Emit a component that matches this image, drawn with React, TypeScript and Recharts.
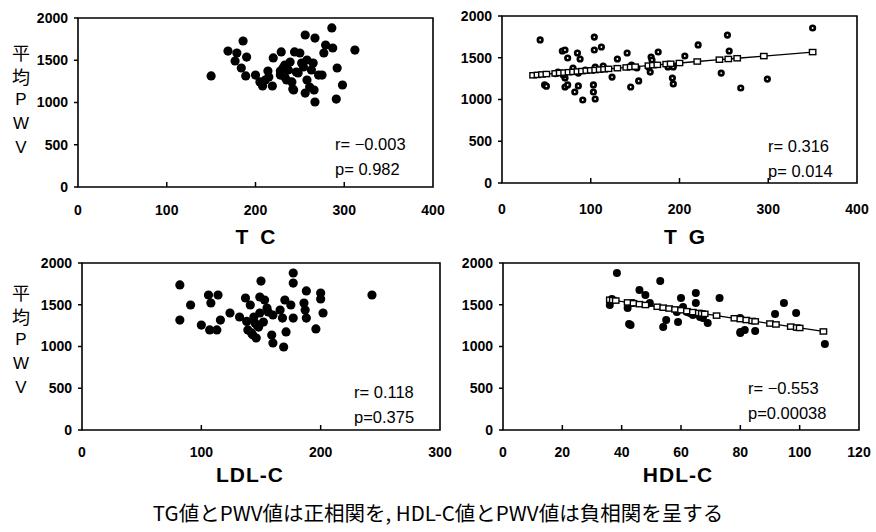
import React from 'react';
import { ScatterChart, Scatter, XAxis, YAxis, ReferenceArea } from 'recharts';

// ---------- data ----------
const pwvTicks = [0, 500, 1000, 1500, 2000];
const tcTicks = [0, 100, 200, 300, 400];
const tgTicks = [0, 100, 200, 300, 400];
const ldlTicks = [0, 100, 200, 300];
const hdlTicks = [0, 20, 40, 60, 80, 100, 120];

const tcValues = [150, 169, 186, 179, 177, 190, 184, 189, 200, 208, 214, 219, 220, 229, 231, 233, 235, 239, 243, 244, 250, 246, 252, 256, 267, 266, 267, 265, 258, 256, 261, 271, 275, 277, 279, 286, 287, 292, 291, 298, 312, 258, 233, 228, 241, 237, 215, 211, 205, 263, 254, 248, 228, 242];
const tcPwv = [1314, 1609, 1728, 1586, 1491, 1538, 1408, 1314, 1325, 1195, 1373, 1195, 1527, 1598, 1408, 1302, 1266, 1479, 1148, 1598, 1586, 1361, 1467, 1799, 1763, 1148, 1006, 1467, 1503, 1112, 1183, 1325, 1325, 1586, 1680, 1882, 1645, 1408, 1041, 1207, 1621, 1266, 1444, 1325, 1243, 1385, 1302, 1266, 1243, 1385, 1420, 1349, 1373, 1160];

const tgValues = [43, 48, 50, 68, 71, 74, 85, 88, 104, 104, 112, 130, 141, 124, 145, 154, 168, 176, 192, 193, 206, 221, 247, 254, 256, 269, 299, 350, 71, 71, 74, 82, 86, 91, 103, 103, 105, 63, 69, 80, 86, 94, 103, 105, 114, 146, 152, 165, 169, 167, 187, 193, 60];
const tgPwv = [1713, 1174, 1160, 1581, 1593, 1497, 1557, 1485, 1748, 1593, 1629, 1485, 1557, 1269, 1150, 1222, 1509, 1569, 1257, 1186, 1521, 1653, 1317, 1772, 1581, 1138, 1245, 1856, 1257, 1150, 1174, 1090, 1162, 994, 1174, 1090, 1006, 1329, 1293, 1377, 1317, 1353, 1353, 1389, 1401, 1413, 1377, 1389, 1473, 1329, 1389, 1389, 1310];
const tgFitX = [35, 40, 45, 50, 60, 65, 70, 75, 80, 85, 90, 95, 100, 105, 110, 115, 120, 130, 140, 145, 150, 165, 170, 175, 185, 190, 200, 220, 245, 255, 265, 295, 350];
const tgFitY = [1290, 1295, 1300, 1305, 1313, 1318, 1322, 1327, 1331, 1336, 1340, 1345, 1349, 1353, 1358, 1362, 1367, 1375, 1384, 1389, 1393, 1406, 1411, 1415, 1424, 1428, 1437, 1455, 1477, 1485, 1494, 1520, 1568];

const ldlValues = [82, 82, 91, 100, 106, 108, 114, 107, 113, 116, 124, 132, 137, 141, 139, 142, 146, 150, 149, 153, 155, 144, 145, 148, 152, 149, 159, 160, 169, 170, 171, 168, 166, 177, 177, 175, 177, 188, 186, 187, 188, 196, 200, 200, 202, 243, 160, 156, 143, 147, 138];
const ldlPwv = [1737, 1317, 1497, 1257, 1617, 1521, 1617, 1198, 1198, 1317, 1401, 1353, 1581, 1497, 1198, 1162, 1102, 1784, 1593, 1557, 1461, 1353, 1281, 1233, 1293, 1401, 1138, 1042, 994, 1557, 1174, 1341, 1437, 1880, 1760, 1497, 1341, 1665, 1521, 1437, 1341, 1210, 1641, 1569, 1401, 1617, 1377, 1413, 1140, 1250, 1300];

const hdlValues = [38.4, 36, 36.7, 42, 42.5, 43, 46, 48, 53, 54, 55, 59, 60, 65, 65, 69, 73, 80, 81.5, 85, 91.7, 94.7, 98.8, 108.5, 62, 63, 64, 66.4, 67.4, 60.7, 58.6, 43.8, 49.5, 79.9, 80];
const hdlPwv = [1880, 1497, 1569, 1461, 1269, 1257, 1677, 1617, 1784, 1233, 1317, 1293, 1581, 1641, 1521, 1281, 1581, 1174, 1198, 1186, 1389, 1521, 1401, 1030, 1413, 1401, 1377, 1353, 1341, 1473, 1413, 1521, 1521, 1341, 1162];
const hdlFitX = [36, 37, 38, 42, 44, 46, 48, 52, 54, 56, 58, 60, 62, 64, 66, 67, 68, 72, 78, 80, 82, 84, 85, 90, 92, 97, 99, 100, 108];
const hdlFitY = [1560, 1555, 1550, 1528, 1518, 1507, 1497, 1476, 1465, 1455, 1444, 1434, 1423, 1412, 1402, 1396, 1391, 1370, 1338, 1328, 1317, 1306, 1301, 1275, 1264, 1238, 1227, 1222, 1180];

const tcStats = ['r= \u22120.003', 'p= 0.982'];
const tgStats = ['r= 0.316', 'p= 0.014'];
const ldlStats = ['r= 0.118', 'p=0.375'];
const hdlStats = ['r= \u22120.553', 'p=0.00038'];

const titles = ['T C', 'T G', 'LDL-C', 'HDL-C'];
const yLabelChars = ['平', '均', 'P', 'W', 'V'];
const footer = 'TG値とPWV値は正相関を, HDL-C値とPWV値は負相関を呈する';

const zip = (xs: number[], ys: number[]) => xs.map((x, i) => ({ x, y: ys[i] }));

// ---------- styles ----------
const LATIN = '"Liberation Sans", Arial, sans-serif';
const CJK = '"Noto Sans CJK JP", "Noto Sans", sans-serif';

const solidDot = (r: number) => (p: any) => <circle cx={p.cx} cy={p.cy} r={r} fill="#000" />;
const ringDot = (p: any) => (
  <g>
    <circle cx={p.cx} cy={p.cy} r={3.6} fill="#000" />
    <circle cx={p.cx} cy={p.cy} r={0.9} fill="#fff" />
  </g>
);
const squareMark = (p: any) => (
  <rect x={p.cx - 3.2} y={p.cy - 2.6} width={6.4} height={5.2} fill="#fff" stroke="#000" strokeWidth={1.4} />
);

const makeXTick = (lo: number, hi: number, dy: number) => (props: any) => {
  const { x, y, payload } = props;
  const v = payload.value;
  return (
    <g>
      {v !== lo && v !== hi ? <line x1={x} x2={x} y1={y} y2={y - 5} stroke="#000" strokeWidth={1.5} /> : null}
      <text x={x} y={y + dy} textAnchor="middle" dominantBaseline="central" fontFamily={LATIN} fontWeight="bold" fontSize={14} fill="#000">
        {v}
      </text>
    </g>
  );
};

type PanelProps = {
  chart: { left: number; top: number; w: number; h: number };
  plot: { l: number; t: number; r: number; b: number };
  xDomain: [number, number];
  xTicks: number[];
  points: { x: number; y: number }[];
  fit?: { x: number; y: number }[];
  dot: (p: any) => React.ReactElement;
  labelDy: number;
};

function Panel({ chart, plot, xDomain, xTicks, points, fit, dot, labelDy }: PanelProps) {
  const yW = plot.l - chart.left;
  const xH = chart.top + chart.h - plot.b;
  return (
    <div style={{ position: 'absolute', left: chart.left, top: chart.top }}>
      <ScatterChart
        width={chart.w}
        height={chart.h}
        margin={{ top: plot.t - chart.top, right: chart.left + chart.w - plot.r, bottom: 0, left: 0 }}
      >
        <XAxis
          type="number"
          dataKey="x"
          domain={xDomain}
          ticks={xTicks}
          interval={0}
          height={xH}
          axisLine={false}
          tickLine={false}
          tickSize={0}
          tickMargin={0}
          tick={makeXTick(xDomain[0], xDomain[1], labelDy)}
        />
        <YAxis
          type="number"
          dataKey="y"
          domain={[0, 2000]}
          ticks={pwvTicks}
          interval={0}
          width={yW}
          axisLine={false}
          tickSize={4}
          tickMargin={6}
          tickLine={{ stroke: '#000', strokeWidth: 1.5 }}
          tick={{ fill: '#000', fontSize: 14, fontWeight: 'bold', fontFamily: LATIN }}
        />
        <ReferenceArea x1={xDomain[0]} x2={xDomain[1]} y1={0} y2={2000} fill="none" fillOpacity={0} stroke="#000" strokeWidth={1.6} />
        <Scatter data={points} shape={dot} isAnimationActive={false} />
        {fit ? (
          <Scatter
            data={fit}
            shape={squareMark}
            line={{ stroke: '#000', strokeWidth: 1.3 }}
            lineType="joint"
            isAnimationActive={false}
          />
        ) : null}
      </ScatterChart>
    </div>
  );
}

const abs = (left: number, top: number, extra: React.CSSProperties = {}): React.CSSProperties => ({
  position: 'absolute',
  left,
  top,
  whiteSpace: 'nowrap',
  color: '#000',
  ...extra,
});

function Stats({ lines, left, top }: { lines: string[]; left: number; top: number }) {
  return (
    <div style={abs(left, top, { fontFamily: LATIN, fontSize: 16.5, lineHeight: '25px' })}>
      {lines.map((s, i) => (
        <div key={i}>{s}</div>
      ))}
    </div>
  );
}

function YLabel({ top }: { top: number }) {
  return (
    <div style={abs(9, top, { width: 24, textAlign: 'center' })}>
      {yLabelChars.map((c, i) => (
        <div
          key={i}
          style={{
            height: 24,
            lineHeight: '24px',
            fontFamily: i < 2 ? CJK : LATIN,
            fontSize: i < 2 ? 18 : 17,
          }}
        >
          {c}
        </div>
      ))}
    </div>
  );
}

function Title({ text, cx, cy }: { text: string; cx: number; cy: number }) {
  return (
    <div
      style={abs(cx - 60, cy - 13, {
        width: 120,
        textAlign: 'center',
        lineHeight: '26px',
        fontFamily: LATIN,
        fontWeight: 'bold',
        fontSize: 21,
        letterSpacing: text.length <= 3 ? 3 : 1,
      })}
    >
      {text}
    </div>
  );
}

export default function App() {
  const tcData = zip(tcValues, tcPwv);
  const tgData = zip(tgValues, tgPwv);
  const tgFit = zip(tgFitX, tgFitY);
  const ldlData = zip(ldlValues, ldlPwv);
  const hdlData = zip(hdlValues, hdlPwv);
  const hdlFit = zip(hdlFitX, hdlFitY);

  return (
    <div style={{ position: 'absolute', left: 0, top: 0, width: 876, height: 532, background: '#fff', overflow: 'hidden' }}>
      <Panel
        chart={{ left: 0, top: 0, w: 460, h: 250 }}
        plot={{ l: 78, t: 18, r: 433, b: 187 }}
        xDomain={[0, 400]}
        xTicks={tcTicks}
        points={tcData}
        dot={solidDot(4.6)}
        labelDy={23}
      />
      <Panel
        chart={{ left: 440, top: 0, w: 436, h: 250 }}
        plot={{ l: 502, t: 16, r: 857, b: 183 }}
        xDomain={[0, 400]}
        xTicks={tgTicks}
        points={tgData}
        fit={tgFit}
        dot={ringDot}
        labelDy={26}
      />
      <Panel
        chart={{ left: 0, top: 250, w: 460, h: 240 }}
        plot={{ l: 82, t: 263, r: 440, b: 430 }}
        xDomain={[0, 300]}
        xTicks={ldlTicks}
        points={ldlData}
        dot={solidDot(4.6)}
        labelDy={22}
      />
      <Panel
        chart={{ left: 440, top: 250, w: 436, h: 240 }}
        plot={{ l: 503, t: 263, r: 859, b: 430 }}
        xDomain={[0, 120]}
        xTicks={hdlTicks}
        points={hdlData}
        fit={hdlFit}
        dot={solidDot(4)}
        labelDy={22}
      />

      <YLabel top={40} />
      <YLabel top={280} />

      <Stats lines={tcStats} left={335} top={132} />
      <Stats lines={tgStats} left={768} top={134} />
      <Stats lines={ldlStats} left={354} top={380} />
      <Stats lines={hdlStats} left={748} top={376} />

      <Title text={titles[0]} cx={257} cy={237} />
      <Title text={titles[1]} cx={686} cy={237} />
      <Title text={titles[2]} cx={250} cy={475} />
      <Title text={titles[3]} cx={678} cy={475} />

      <div
        style={abs(0, 498, {
          width: 876,
          textAlign: 'center',
          fontFamily: CJK,
          fontSize: 20.5,
          lineHeight: '28px',
        })}
      >
        {footer}
      </div>
    </div>
  );
}
